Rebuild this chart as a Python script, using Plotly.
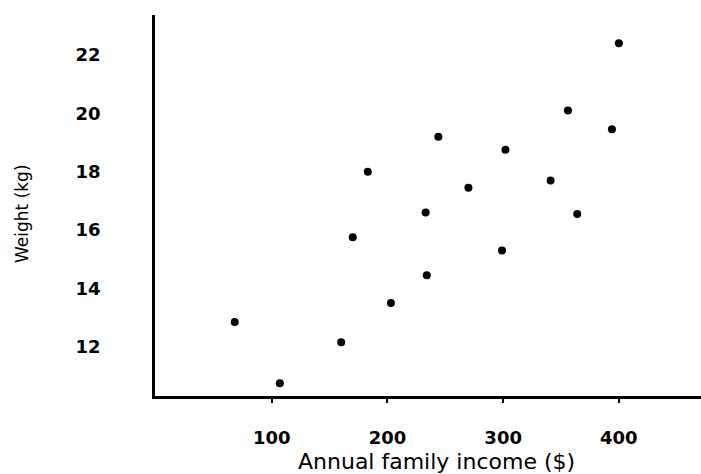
import plotly.graph_objects as go

income = [68, 107, 160, 170, 183, 203, 233, 234, 244, 270, 299, 302, 341, 356, 364, 394, 400]
weight = [12.85, 10.75, 12.15, 15.75, 18.0, 13.5, 16.6, 14.45, 19.2, 17.45, 15.3, 18.75, 17.7, 20.1, 16.55, 19.45, 22.4]

x_ticks = [100, 200, 300, 400]
y_ticks = [12, 14, 16, 18, 20, 22]

fig = go.Figure()
fig.add_trace(go.Scatter(
    x=income, y=weight, mode="markers",
    marker=dict(color="black", size=8, line=dict(width=0)),
    showlegend=False, cliponaxis=False,
))

tickfont = dict(family="DejaVu Sans", size=18, color="black", weight="bold")

fig.update_layout(
    width=701, height=474,
    margin=dict(l=155, r=0, t=15, b=78),
    paper_bgcolor="white", plot_bgcolor="white",
    xaxis=dict(
        range=[-0.9, 471], tickvals=x_ticks, ticktext=[str(v) for v in x_ticks],
        showgrid=False, zeroline=False, showline=True, linecolor="black", linewidth=2.5,
        ticks="outside", ticklen=4, tickwidth=2, tickcolor="black",
        tickfont=tickfont, ticklabelstandoff=20,
    ),
    yaxis=dict(
        range=[10.31, 23.37], tickvals=y_ticks, ticktext=[str(v) for v in y_ticks],
        showgrid=False, zeroline=False, showline=True, linecolor="black", linewidth=2.5,
        ticks="", tickfont=tickfont, ticklabelstandoff=48,
    ),
    annotations=[
        dict(text="Annual family income ($)", xref="paper", yref="paper",
             x=0.5147, y=-0.1732, showarrow=False, xanchor="center", yanchor="middle",
             font=dict(family="DejaVu Sans", size=22, color="black")),
        dict(text="Weight (kg)", xref="paper", yref="paper",
             x=-0.2436, y=0.4803, showarrow=False, xanchor="center", yanchor="middle",
             textangle=-90, font=dict(family="DejaVu Sans", size=17, color="black")),
    ],
)

fig.write_html(
    "out.html",
    config={"displayModeBar": False},
    post_script="document.body.style.margin='0';document.body.style.overflow='hidden';",
)
